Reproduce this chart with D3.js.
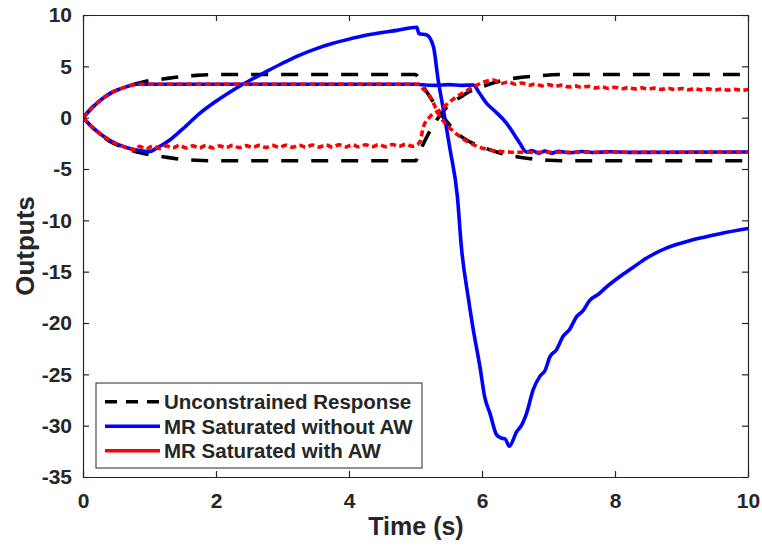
<!DOCTYPE html>
<html lang="en">
<head>
    <meta charset="UTF-8">
    <title>Outputs vs Time</title>
    <script src="https://d3js.org/d3.v7.min.js"></script>
    <style>
        body { margin: 0; background: #fff; }
        text { font-family: "Liberation Sans", Arial, Helvetica, sans-serif; font-weight: bold; fill: #262626; }
        .tick text { font-size: 21px; }
        .domain, .tick line { stroke: #262626; stroke-width: 1.2; }
    </style>
</head>
<body>
<svg id="main" width="762" height="550"></svg>
<script>
    // tick labels
    let xTicks = [0, 2, 4, 6, 8, 10];
    let yTicks = [10, 5, 0, -5, -10, -15, -20, -25, -30, -35];

    // legend entries
    let seriesNames = ['Unconstrained Response', 'MR Saturated without AW', 'MR Saturated with AW'];

    // unconstrained response, both outputs  [time, value]
    let unconA = [[0,0],[0.15,1.05],[0.41,2.37],[0.65,3.0],[0.86,3.4],[1.0,3.6],[1.16,3.72],[1.3,3.85],[1.5,4.0],[1.7,4.12],[2.0,4.2],[5.0,4.2],
        [5.05,3.8],[5.1,3.2],[5.2,2.2],[5.3,1.2],[5.4,0.2],[5.5,-0.6],[5.6,-1.35],[5.7,-1.9],[5.8,-2.3],[6.0,-2.85],[6.2,-3.3],[6.4,-3.65],[6.7,-3.97],[7.0,-4.15],[7.3,-4.2],[10,-4.2]];
    let unconB = [[0,0],[0.15,-1.0],[0.4,-2.3],[0.65,-3.0],[0.85,-3.4],[1.0,-3.6],[1.2,-3.8],[1.4,-4.0],[1.7,-4.15],[2.0,-4.2],[5.0,-4.2],
        [5.05,-3.6],[5.1,-2.8],[5.2,-1.5],[5.3,-0.4],[5.4,0.5],[5.5,1.2],[5.6,1.7],[5.7,2.1],[5.8,2.5],[6.0,3.0],[6.2,3.45],[6.5,3.85],[6.8,4.05],[7.2,4.2],[10,4.2]];

    // MR saturated without anti-windup
    let noAwA = [[0,0],[0.15,1.05],[0.41,2.37],[0.65,3.0],[0.8,3.25],[5.0,3.25],[5.1,3.2],[5.3,3.15],[5.5,3.22],[5.7,3.15],[5.87,3.18],
        [5.95,2.5],[6.07,1.4],[6.2,0.6],[6.37,-0.55],[6.5,-1.8],[6.57,-2.5],[6.67,-3.35],[6.75,-3.2],[6.85,-3.45],[6.95,-3.25],[7.05,-3.45],[7.15,-3.28],
        [7.3,-3.42],[7.5,-3.3],[7.7,-3.4],[7.9,-3.32],[8.2,-3.38],[10,-3.35]];
    let noAwB = [[0,0],[0.15,-1.0],[0.4,-2.2],[0.65,-2.9],[0.85,-3.2],[1.0,-3.3],[1.1,-3.0],[1.3,-2.2],[1.5,-1.1],[1.76,0.45],[2.0,1.6],[2.26,2.7],
        [2.5,3.6],[2.76,4.5],[3.0,5.3],[3.26,6.1],[3.5,6.7],[3.76,7.24],[4.0,7.65],[4.27,8.05],[4.5,8.3],[4.72,8.5],[5.02,8.8],[5.05,8.2],[5.17,8.05],
        [5.27,6.9],[5.34,3.7],[5.42,0.75],[5.52,-3.1],[5.63,-7.7],[5.69,-12.6],[5.79,-17.4],[5.87,-20.7],[5.97,-24.3],[6.04,-27.2],[6.12,-28.8],
        [6.22,-30.9],[6.29,-31.2],[6.35,-31.3],[6.41,-32.0],[6.52,-30.6],[6.6,-29.9],[6.67,-28.8],[6.77,-26.5],[6.87,-25.2],[6.95,-24.6],[7.02,-23.3],
        [7.12,-22.6],[7.22,-21.3],[7.32,-20.6],[7.42,-19.4],[7.52,-18.8],[7.62,-17.8],[7.75,-17.2],[7.87,-16.5],[8.07,-15.5],[8.27,-14.6],[8.47,-13.7],
        [8.77,-12.7],[9.17,-11.9],[9.58,-11.3],[10,-10.8]];

    // MR saturated with anti-windup
    let awA = [[0,0],[0.15,1.05],[0.41,2.37],[0.65,3.0],[0.8,3.25],[5.05,3.25],[5.1,2.9],[5.22,2.04],[5.3,1.0],[5.37,0.1],[5.5,-0.9],[5.67,-1.85],
        [5.8,-2.4],[5.95,-2.85],[6.12,-3.15],[6.3,-3.3],[6.5,-3.37],[10,-3.37]];
    let awB = [[0,0],[0.15,-1.0],[0.4,-2.2],[0.65,-2.9],[0.8,-3.15],[0.85,-2.8],[0.95,-3.05],[1.05,-2.75],[1.15,-3.0],[1.25,-2.75],[1.35,-2.95],
        [1.45,-2.7],[1.55,-2.95],[1.65,-2.75],[1.75,-2.95],[1.85,-2.7],[1.95,-2.95],[2.05,-2.75],[2.15,-2.92],[2.25,-2.7],[2.35,-2.92],[2.45,-2.72],
        [2.55,-2.9],[2.65,-2.7],[2.75,-2.9],[2.85,-2.7],[2.95,-2.9],[3.05,-2.68],[3.15,-2.88],[3.25,-2.68],[3.35,-2.88],[3.45,-2.66],[3.55,-2.86],
        [3.65,-2.66],[3.75,-2.86],[3.85,-2.65],[3.95,-2.85],[4.05,-2.64],[4.15,-2.84],[4.25,-2.64],[4.35,-2.82],[4.45,-2.62],[4.55,-2.82],[4.65,-2.62],
        [4.75,-2.8],[4.85,-2.6],[4.95,-2.78],[5.03,-2.6],[5.07,-2.3],[5.12,-0.87],[5.22,0.1],[5.37,0.75],[5.5,1.45],[5.62,2.04],[5.75,2.55],[5.87,3.0],
        [6.0,3.4],[6.17,3.67],[6.3,3.35],[6.4,3.48],[6.5,3.25],[6.6,3.38],[6.7,3.15],[6.8,3.28],[6.9,3.1],[7.0,3.22],[7.1,3.05],[7.2,3.17],[7.3,3.0],
        [7.4,3.1],[7.5,2.95],[7.6,3.05],[7.7,2.9],[7.8,3.0],[7.9,2.85],[8.0,2.96],[8.1,2.82],[8.2,2.93],[8.3,2.8],[8.4,2.9],[8.5,2.78],[8.6,2.88],
        [8.7,2.76],[8.8,2.86],[8.9,2.74],[9.0,2.84],[9.1,2.72],[9.2,2.82],[9.3,2.7],[9.4,2.8],[9.5,2.7],[9.6,2.79],[9.7,2.68],[9.8,2.77],[9.9,2.67],[10,2.74]];

    let svg = d3.select('svg#main');
    let margin = {left: 83, top: 15, right: 14, bottom: 73};
    let W = 762, H = 550;

    let xScale = d3.scaleLinear().domain([0, 10]).range([margin.left, W - margin.right]);
    let yScale = d3.scaleLinear().domain([-35, 10]).range([H - margin.bottom, margin.top]);

    let line = d3.line()
        .x(function(d){return xScale(d[0]);})
        .y(function(d){return yScale(d[1]);})
        .curve(d3.curveMonotoneX);

    svg.append('clipPath').attr('id', 'clip').append('rect')
        .attr('x', margin.left).attr('y', margin.top)
        .attr('width', W - margin.left - margin.right).attr('height', H - margin.top - margin.bottom);
    let plot = svg.append('g').attr('clip-path', 'url(#clip)');

    let styles = [
        {color: 'black', dash: '17,13'},
        {color: '#0000ff', dash: null},
        {color: '#ff0000', dash: '6,3.5'}
    ];
    let curves = [[unconA, unconB], [noAwA, noAwB], [awA, awB]];

    curves.forEach(function(pair, i){
        plot.selectAll(null)
            .data(pair)
            .enter()
            .append('path')
            .attr('d', line)
            .attr('fill', 'none')
            .attr('stroke', styles[i].color)
            .attr('stroke-width', 3.6)
            .attr('stroke-dasharray', styles[i].dash);
    });

    // axes (box on, ticks inside); plain hyphen for negatives like the original
    let plain = function(d){return String(d);};
    let axBottom = svg.append('g').attr('transform', 'translate(0,' + (H - margin.bottom) + ')')
        .call(d3.axisBottom(xScale).tickValues(xTicks).tickFormat(plain).tickSizeInner(-6).tickSizeOuter(0).tickPadding(16));
    svg.append('g').attr('transform', 'translate(0,' + margin.top + ')')
        .call(d3.axisTop(xScale).tickValues(xTicks).tickSizeInner(-6).tickSizeOuter(0).tickFormat(''));
    svg.append('g').attr('transform', 'translate(' + margin.left + ',0)')
        .call(d3.axisLeft(yScale).tickValues(yTicks).tickFormat(plain).tickSizeInner(-6).tickSizeOuter(0).tickPadding(11));
    svg.append('g').attr('transform', 'translate(' + (W - margin.right) + ',0)')
        .call(d3.axisRight(yScale).tickValues(yTicks).tickSizeInner(-6).tickSizeOuter(0).tickFormat(''));
    axBottom.selectAll('.tick text').attr('dy', '0.71em');

    svg.append('text')
        .attr('x', 416).attr('y', 535)
        .attr('text-anchor', 'middle')
        .style('font-size', '25px')
        .text('Time (s)');
    svg.append('text')
        .attr('transform', 'translate(34,246) rotate(-90)')
        .attr('text-anchor', 'middle')
        .style('font-size', '26px')
        .text('Outputs');

    // legend
    let legend = svg.append('g');
    legend.append('rect')
        .attr('x', 96).attr('y', 383).attr('width', 326).attr('height', 85)
        .attr('fill', 'white').attr('stroke', '#262626').attr('stroke-width', 1);
    let items = legend.selectAll('g.item')
        .data(seriesNames)
        .enter()
        .append('g')
        .attr('transform', function(d, i){return 'translate(0,' + (401.7 + i * 24.5) + ')';});
    items.append('line')
        .attr('x1', 105).attr('x2', 160).attr('y1', 0).attr('y2', 0)
        .attr('stroke', function(d, i){return styles[i].color;})
        .attr('stroke-width', 3.6)
        .attr('stroke-dasharray', function(d, i){return i === 0 ? '12,9' : null;});
    items.append('text')
        .attr('x', 164).attr('y', 7.5)
        .style('font-size', '20.5px')
        .text(function(d){return d;});
</script>
</body>
</html>
